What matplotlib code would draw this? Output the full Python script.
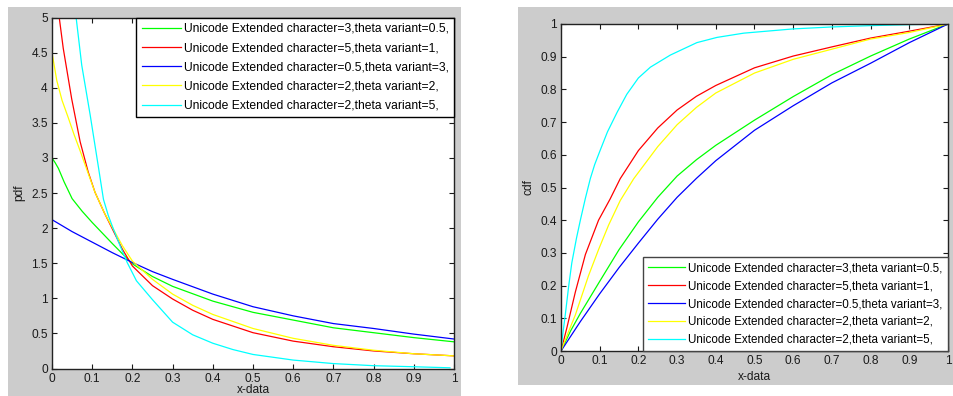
import matplotlib
matplotlib.use("Agg")
import matplotlib.pyplot as plt
from matplotlib.patches import Rectangle

plt.rcParams['font.family'] = ['Liberation Sans', 'DejaVu Sans']

# ---------------- data ----------------
labels = [
    "Unicode Extended character=3,theta variant=0.5,",
    "Unicode Extended character=5,theta variant=1,",
    "Unicode Extended character=0.5,theta variant=3,",
    "Unicode Extended character=2,theta variant=2,",
    "Unicode Extended character=2,theta variant=5,",
]
colors = ["#00ff00", "#ff0000", "#0000ff", "#ffff00", "#00ffff"]

# pdf panel
pdf_green_x = [0, 0.008, 0.016, 0.03, 0.05, 0.075, 0.1, 0.15, 0.2, 0.25, 0.3, 0.4, 0.5, 0.6, 0.7, 0.8, 0.9, 1.0]
pdf_green_y = [3.0, 2.93, 2.85, 2.66, 2.42, 2.24, 2.08, 1.78, 1.49, 1.31, 1.17, 0.96, 0.80, 0.69, 0.58, 0.51, 0.44, 0.38]

pdf_red_x = [0.018, 0.028, 0.049, 0.07, 0.09, 0.107, 0.13, 0.15, 0.175, 0.2, 0.25, 0.3, 0.35, 0.4, 0.5, 0.6, 0.7, 0.8, 0.9, 1.0]
pdf_red_y = [5.0, 4.56, 3.84, 3.23, 2.80, 2.51, 2.22, 1.99, 1.70, 1.46, 1.18, 0.99, 0.83, 0.70, 0.51, 0.39, 0.31, 0.25, 0.21, 0.18]

pdf_blue_x = [0, 0.05, 0.1, 0.15, 0.2, 0.25, 0.3, 0.4, 0.5, 0.6, 0.7, 0.8, 0.9, 1.0]
pdf_blue_y = [2.12, 1.95, 1.80, 1.65, 1.51, 1.38, 1.27, 1.06, 0.88, 0.75, 0.64, 0.57, 0.49, 0.42]

pdf_yellow_x = [0, 0.012, 0.025, 0.04, 0.055, 0.07, 0.09, 0.107, 0.13, 0.15, 0.175, 0.2, 0.25, 0.3, 0.35, 0.4, 0.5, 0.6, 0.7, 0.8, 0.9, 1.0]
pdf_yellow_y = [4.5, 4.1, 3.82, 3.58, 3.33, 3.1, 2.78, 2.51, 2.22, 2.01, 1.75, 1.53, 1.27, 1.06, 0.90, 0.77, 0.57, 0.43, 0.33, 0.26, 0.21, 0.18]

pdf_cyan_x = [0.06, 0.074, 0.095, 0.116, 0.128, 0.14, 0.1525, 0.17, 0.187, 0.21, 0.25, 0.3, 0.35, 0.4, 0.45, 0.5, 0.6, 0.7, 0.8, 0.9, 0.99]
pdf_cyan_y = [5.0, 4.32, 3.61, 2.85, 2.41, 2.18, 1.99, 1.74, 1.51, 1.25, 0.98, 0.66, 0.48, 0.36, 0.27, 0.20, 0.12, 0.07, 0.04, 0.025, 0.01]

# cdf panel
cdf_green_x = [0, 0.025, 0.05, 0.1, 0.15, 0.2, 0.25, 0.3, 0.35, 0.4, 0.5, 0.6, 0.7, 0.8, 0.9, 1.0]
cdf_green_y = [0, 0.062, 0.115, 0.213, 0.31, 0.395, 0.47, 0.535, 0.585, 0.629, 0.706, 0.778, 0.845, 0.902, 0.954, 1.0]

cdf_red_x = [0, 0.015, 0.037, 0.063, 0.097, 0.127, 0.153, 0.2, 0.25, 0.3, 0.35, 0.4, 0.5, 0.6, 0.7, 0.8, 0.9, 1.0]
cdf_red_y = [0, 0.07, 0.18, 0.295, 0.40, 0.465, 0.527, 0.613, 0.682, 0.737, 0.779, 0.812, 0.866, 0.902, 0.93, 0.957, 0.978, 1.0]

cdf_blue_x = [0, 0.05, 0.1, 0.15, 0.2, 0.25, 0.3, 0.35, 0.4, 0.5, 0.6, 0.7, 0.8, 0.9, 1.0]
cdf_blue_y = [0, 0.09, 0.175, 0.255, 0.33, 0.403, 0.47, 0.528, 0.582, 0.675, 0.75, 0.82, 0.88, 0.943, 1.0]

cdf_yellow_x = [0, 0.018, 0.037, 0.071, 0.097, 0.123, 0.153, 0.188, 0.25, 0.3, 0.35, 0.4, 0.5, 0.6, 0.7, 0.8, 0.9, 1.0]
cdf_yellow_y = [0, 0.055, 0.11, 0.23, 0.31, 0.385, 0.46, 0.527, 0.625, 0.692, 0.745, 0.789, 0.85, 0.892, 0.923, 0.954, 0.974, 1.0]

cdf_cyan_x = [0, 0.005, 0.011, 0.02, 0.028, 0.04, 0.05, 0.063, 0.0757, 0.087, 0.1, 0.12, 0.145, 0.17, 0.2, 0.231, 0.2825, 0.351, 0.403, 0.472, 0.6, 0.7, 0.8, 0.9, 1.0]
cdf_cyan_y = [0, 0.055, 0.11, 0.2, 0.27, 0.345, 0.40, 0.467, 0.527, 0.57, 0.61, 0.67, 0.73, 0.785, 0.835, 0.868, 0.905, 0.943, 0.959, 0.972, 0.985, 0.991, 0.995, 0.998, 1.0]

x_ticks = [0, 0.1, 0.2, 0.3, 0.4, 0.5, 0.6, 0.7, 0.8, 0.9, 1]
x_ticklabels = ["0", "0.1", "0.2", "0.3", "0.4", "0.5", "0.6", "0.7", "0.8", "0.9", "1"]
pdf_yticks = [0, 0.5, 1, 1.5, 2, 2.5, 3, 3.5, 4, 4.5, 5]
pdf_yticklabels = ["0", "0.5", "1", "1.5", "2", "2.5", "3", "3.5", "4", "4.5", "5"]
cdf_yticks = [0, 0.1, 0.2, 0.3, 0.4, 0.5, 0.6, 0.7, 0.8, 0.9, 1]
cdf_yticklabels = ["0", "0.1", "0.2", "0.3", "0.4", "0.5", "0.6", "0.7", "0.8", "0.9", "1"]

pdf_series = [(pdf_green_x, pdf_green_y), (pdf_red_x, pdf_red_y), (pdf_blue_x, pdf_blue_y),
              (pdf_yellow_x, pdf_yellow_y), (pdf_cyan_x, pdf_cyan_y)]
cdf_series = [(cdf_green_x, cdf_green_y), (cdf_red_x, cdf_red_y), (cdf_blue_x, cdf_blue_y),
              (cdf_yellow_x, cdf_yellow_y), (cdf_cyan_x, cdf_cyan_y)]

# ---------------- figure ----------------
W, H = 954, 396
fig = plt.figure(figsize=(W / 100, H / 100), dpi=100)
fig.patch.set_facecolor("white")

gray = "#cccccc"
def px_rect(x0, y0, x1, y1):
    return Rectangle((x0 / W, 1 - y1 / H), (x1 - x0) / W, (y1 - y0) / H,
                     transform=fig.transFigure, facecolor=gray, edgecolor="none", zorder=-10)
fig.patches.append(px_rect(8, 7, 461, 397))
fig.patches.append(px_rect(518, 7, 955, 385))

def px_axes(x0, y0, x1, y1):
    return fig.add_axes([x0 / W, 1 - y1 / H, (x1 - x0) / W, (y1 - y0) / H])

ax1 = px_axes(52, 17.5, 454, 368.5)
ax2 = px_axes(561, 24, 948, 351)

fs = 8.6
tick_col = "#1a1a1a"

def style(ax, yticks, ylabels_, ylim, ylabel, xlabel, labelpad_x):
    ax.set_xlim(0, 1)
    ax.set_ylim(*ylim)
    ax.set_xticks(x_ticks)
    ax.set_xticklabels(x_ticklabels)
    ax.set_yticks(yticks)
    ax.set_yticklabels(ylabels_)
    ax.tick_params(direction="in", length=3.5, width=0.8, top=True, right=True,
                   labelsize=fs, colors=tick_col, pad=3)
    for s in ax.spines.values():
        s.set_linewidth(1.0)
        s.set_color("#222222")
    ax.set_ylabel(ylabel, fontsize=fs, color=tick_col, labelpad=4)
    ax.set_xlabel(xlabel, fontsize=fs, color=tick_col, labelpad=labelpad_x)

for (x, y), c, lab in zip(pdf_series, colors, labels):
    ax1.plot(x, y, color=c, lw=0.9, label=lab)
for (x, y), c, lab in zip(cdf_series, colors, labels):
    ax2.plot(x, y, color=c, lw=0.9, label=lab)

style(ax1, pdf_yticks, pdf_yticklabels, (0, 5), "pdf", "x-data", -0.5)
style(ax2, cdf_yticks, cdf_yticklabels, (0, 1), "cdf", "x-data", 3)

leg_kw = dict(frameon=True, fancybox=False, framealpha=1, edgecolor="black",
              handletextpad=0.25, borderaxespad=0, borderpad=0.45)
l1 = ax1.legend(loc="upper right", bbox_to_anchor=(1, 1), fontsize=8.7,
                handlelength=3.2, labelspacing=0.6, **leg_kw)
l1.get_frame().set_linewidth(1.0)
l2 = ax2.legend(loc="lower right", bbox_to_anchor=(1, 0), fontsize=8.4,
                handlelength=3.2, labelspacing=0.5, **leg_kw)
l2.get_frame().set_linewidth(1.0)
l2.get_frame().set_edgecolor("#444444")

fig.savefig("out.png", dpi=100, facecolor="white")
